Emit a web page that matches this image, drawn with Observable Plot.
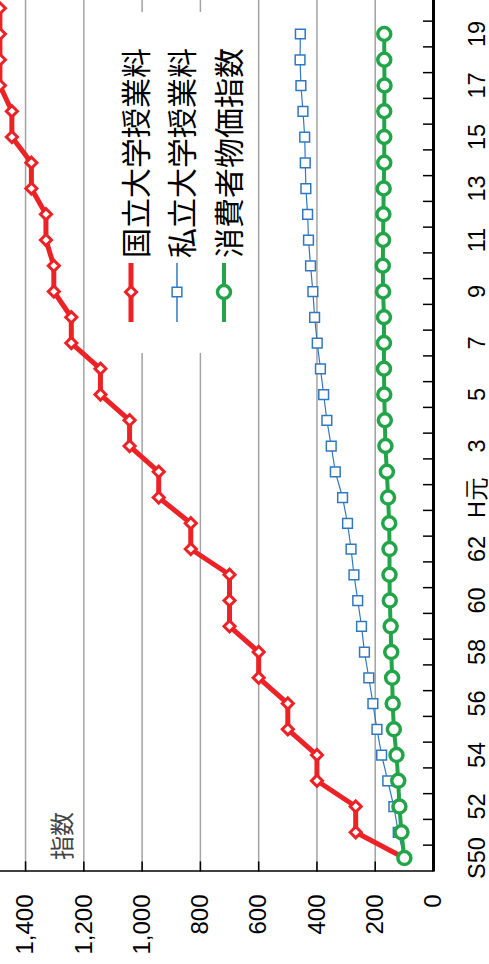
<!DOCTYPE html>
<html>
<head>
<meta charset="utf-8">
<script src="https://cdn.jsdelivr.net/npm/d3@7"></script>
<script src="https://cdn.jsdelivr.net/npm/@observablehq/plot@0.6"></script>
<style>
  html, body { margin: 0; padding: 0; background: white; overflow: hidden; width: 489px; height: 964px; }
  /* the chart is laid out landscape, then turned a quarter turn counter-clockwise */
  #chart { position: absolute; left: 0; top: 0; width: 964px; height: 489px;
           transform-origin: 0 0; transform: translate(0px, 964px) rotate(-90deg); }
  #chart svg { overflow: visible; }
</style>
</head>
<body>
<div id="chart"></div>
<script>
// Fiscal years, Showa 50 (1975) to Heisei 20 (2008)
const categories = [
  "S50","S51","S52","S53","S54","S55","S56","S57","S58","S59","S60","S61","S62","S63",
  "H元","H2","H3","H4","H5","H6","H7","H8","H9","H10","H11","H12","H13","H14","H15","H16",
  "H17","H18","H19","H20"
];
// Axis labels, one on every second year
const tickLabels = ["S50","52","54","56","58","60","62","H元","3","5","7","9","11","13","15","17","19"];

// Index values, S50 = 100
const nationalTuition = [
  100, 267, 267, 400, 400, 500, 500, 600, 600, 700, 700, 700, 833, 833,
  943, 943, 1043, 1043, 1143, 1143, 1243, 1243, 1303, 1303, 1330, 1330, 1380, 1380, 1447, 1447,
  1488, 1488, 1488, 1488
];
const privateTuition = [
  100, 121, 136, 157, 178, 194, 208, 222, 237, 247, 260, 273, 283, 295,
  312, 337, 351, 366, 377, 388, 399, 408, 414, 422, 429, 432, 438, 440, 442, 448,
  455, 458, 457
];
const consumerPrices = [
  100, 110, 117, 121, 127, 136, 140, 142, 145, 147, 150, 151, 151, 152,
  156, 160, 165, 167, 169, 170, 170, 170, 173, 174, 173, 172, 171, 169, 169, 169,
  168, 169, 169
];

const seriesNames = ["国立大学授業料", "私立大学授業料", "消費者物価指数"];
const seriesColors = ["#ec2227", "#2f78c0", "#22a548"];
const gridValues = [200, 400, 600, 800, 1000, 1200, 1400];
const axisValues = [0, 200, 400, 600, 800, 1000, 1200, 1400];
const axisTitle = "指数";

const toRows = (values) => values.map((v, i) => ({i, v}));
const national = toRows(nationalTuition);
const priv = toRows(privateTuition);
const cpi = toRows(consumerPrices);

const labelIndex = tickLabels.map((_, k) => k * 2);
const boundaries = d3.range(categories.length).map(i => i + 0.5);

const W = 964, H = 489;
const latin = "'Liberation Sans', Arial, sans-serif";
const cjk = "'Noto Sans CJK JP', sans-serif";

const chart = Plot.plot({
  width: W,
  height: H,
  marginLeft: 92.6,
  marginRight: 0,
  marginTop: 0,
  marginBottom: 56,
  style: {fontFamily: latin, background: "white", color: "black", overflow: "visible"},
  x: {domain: [-0.5, 33.34], axis: null, label: null},
  y: {domain: [0, 1486], axis: null, label: null},
  marks: [
    Plot.ruleY(gridValues, {stroke: "#a3a3a3", strokeWidth: 1.5}),
    // value axis: inward ticks and labels
    Plot.axisY({ticks: axisValues, label: null, tickSize: -10, tickPadding: 33.6, strokeWidth: 1.5,
      tickFormat: d3.format(","), fontSize: 24, fill: "black"}),
    Plot.ruleX([-0.5], {stroke: "black", strokeWidth: 1.5}),
    // category axis: ticks on year boundaries, labels on every second year
    Plot.axisX({ticks: boundaries, label: null, tickSize: -10, strokeWidth: 1.5, tickFormat: () => ""}),
    Plot.axisX({ticks: labelIndex, label: null, tickSize: 0, tickPadding: 35, fontSize: 23.5,
      tickFormat: i => tickLabels[i / 2], fill: "black"}),
    Plot.ruleY([0], {stroke: "black", strokeWidth: 3}),

    // 国立大学授業料
    Plot.line(national, {x: "i", y: "v", stroke: seriesColors[0], strokeWidth: 5}),
    Plot.dot(national, {x: "i", y: "v", symbol: "diamond2", r: 5, fill: "white",
      stroke: seriesColors[0], strokeWidth: 3}),
    // 私立大学授業料
    Plot.line(priv, {x: "i", y: "v", stroke: seriesColors[1], strokeWidth: 1.2}),
    Plot.dot(priv, {x: "i", y: "v", symbol: "square2", r: 6.2, fill: "white",
      stroke: seriesColors[1], strokeWidth: 1.5}),
    // 消費者物価指数
    Plot.line(cpi, {x: "i", y: "v", stroke: seriesColors[2], strokeWidth: 4}),
    Plot.dot(cpi, {x: "i", y: "v", symbol: "circle", r: 6.5, fill: "white",
      stroke: seriesColors[2], strokeWidth: 3.5})
  ]
});

const svg = d3.select(chart);

// axis title in the top-left corner of the plot
svg.append("text")
  .attr("x", 104).attr("y", 60)
  .attr("text-anchor", "start")
  .attr("dominant-baseline", "central")
  .attr("font-family", cjk).attr("font-size", 24).attr("fill", "#444")
  .text(axisTitle);

// legend
const legend = svg.append("g");
legend.append("rect")
  .attr("x", 611).attr("y", 88).attr("width", 341).attr("height", 167)
  .attr("fill", "white").attr("stroke", "none");
const rowY = [131, 177, 224];
const lineWidths = [5, 1.5, 4];
seriesNames.forEach((name, k) => {
  const g = legend.append("g").attr("transform", `translate(0,${rowY[k]})`);
  g.append("line").attr("x1", 642).attr("x2", 701).attr("y1", 0).attr("y2", 0)
    .attr("stroke", seriesColors[k]).attr("stroke-width", lineWidths[k]);
  if (k === 0) {
    g.append("path").attr("d", d3.symbol(d3.symbolDiamond2, Math.PI * 25)())
      .attr("transform", "translate(672,0)")
      .attr("fill", "white").attr("stroke", seriesColors[k]).attr("stroke-width", 3);
  } else if (k === 1) {
    g.append("path").attr("d", d3.symbol(d3.symbolSquare2, Math.PI * 6.2 * 6.2)())
      .attr("transform", "translate(672,0)")
      .attr("fill", "white").attr("stroke", seriesColors[k]).attr("stroke-width", 1.5);
  } else {
    g.append("circle").attr("cx", 672).attr("cy", 0).attr("r", 6.5)
      .attr("fill", "white").attr("stroke", seriesColors[k]).attr("stroke-width", 3.5);
  }
  g.append("text").attr("x", 706).attr("y", 3)
    .attr("text-anchor", "start")
    .attr("dominant-baseline", "central")
    .attr("font-family", cjk).attr("font-size", 30).attr("fill", "black")
    .text(name);
});

document.getElementById("chart").appendChild(chart);
</script>
</body>
</html>
